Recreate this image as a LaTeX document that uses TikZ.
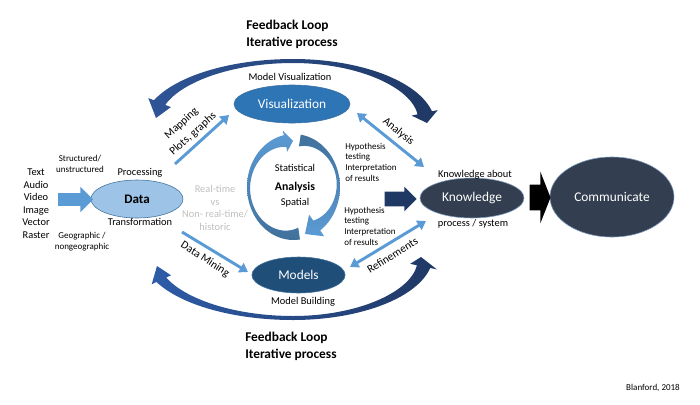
\documentclass[tikz,border=0pt]{standalone}
\usepackage{fontspec}
\setmainfont{Carlito}
\usetikzlibrary{shapes.geometric,shapes.arrows,arrows.meta,positioning}

\definecolor{loopTL}{HTML}{2F5597}
\definecolor{loopTR}{HTML}{1F3864}
\definecolor{loopBL}{HTML}{2E5CA8}
\definecolor{loopBR}{HTML}{203864}
\definecolor{steel}{HTML}{41719C}
\definecolor{litblue}{HTML}{5B9BD5}
\definecolor{vizblue}{HTML}{2E75B6}
\definecolor{modblue}{HTML}{1F4E79}
\definecolor{datafill}{HTML}{9DC3E6}
\definecolor{dataline}{HTML}{41719C}
\definecolor{slate}{HTML}{333F50}
\definecolor{slateline}{HTML}{7F9CC0}
\definecolor{navy}{HTML}{203864}
\definecolor{greytxt}{HTML}{BFBFBF}

\begin{document}
\begin{tikzpicture}[x=0.025cm, y=-0.025cm,
    declare function={tw(\a)=4+10*((\a-90)/75)*((\a-90)/75);
                      bw(\a)=4+10*((\a-270)/80)*((\a-270)/80);
                      aw(\a)=3+9*((\a-13)/68)*((\a-13)/68);
                      cw(\a)=3+9*((\a-190)/88)*((\a-190)/88);},
    lbl/.style={font=\fontsize{7.4}{8.9}\selectfont, align=center, inner sep=0pt},
    smalltxt/.style={font=\fontsize{6.4}{7.6}\selectfont, align=left, inner sep=0pt},
    title/.style={font=\bfseries\fontsize{9.5}{12}\selectfont, align=left, inner sep=0pt},
    blob/.style={ellipse, inner sep=0pt, text=white, line width=0.4pt, font=\fontsize{9.5}{11}\selectfont},
    blockarrow/.style={single arrow, inner xsep=0pt},
    link/.style={draw=litblue, line width=2.1pt, -{Triangle[length=6pt,width=7.5pt]}},
    twolink/.style={draw=litblue, line width=2.1pt, {Triangle[length=6pt,width=7.5pt]}-{Triangle[length=6pt,width=7.5pt]}},
    linklbl/.style={lbl, font=\fontsize{8}{10}\selectfont}
  ]
  \useasboundingbox (0,0) rectangle (700,404);

  % Feedback loops
  \shade[left color=loopTL, right color=loopTR]
    plot[domain=158:90, samples=40, variable=\t] ({293+150*cos(\t)},{125-66*sin(\t)})
    -- plot[domain=90:12, samples=40, variable=\t] ({293+142*cos(\t)},{125-66*sin(\t)})
    -- (437.7,110.1) -- (427,123) -- (411.6,115.6)
    -- plot[domain=12:90, samples=40, variable=\t] ({293+(142-tw(\t))*cos(\t)},{125-(66-tw(\t))*sin(\t)})
    -- plot[domain=90:158, samples=40, variable=\t] ({293+(150-tw(\t))*cos(\t)},{125-(66-tw(\t))*sin(\t)})
    -- (170.9,107.1) -- (156,118) -- (148.3,98.1) -- cycle;
  \shade[left color=loopBL, right color=loopBR]
    plot[domain=204.5:270, samples=40, variable=\t] ({293+150*cos(\t)},{255-65*sin(\t)})
    -- plot[domain=270:348.5, samples=40, variable=\t] ({293+140*cos(\t)},{255-65*sin(\t)})
    -- (436.9,269.4) -- (421,257) -- (410.2,263.8)
    -- plot[domain=348.5:270, samples=40, variable=\t] ({293+(140-bw(\t))*cos(\t)},{255-(65-bw(\t))*sin(\t)})
    -- plot[domain=270:204.5, samples=40, variable=\t] ({293+(150-bw(\t))*cos(\t)},{255-(65-bw(\t))*sin(\t)})
    -- (171,275.3) -- (157,266) -- (151.7,284.3) -- cycle;
  \node[title, anchor=west] (fbtop) at (246,34.5) {Feedback Loop\\Iterative process};
  \node[title, anchor=west] (fbbot) at (245,346.5) {Feedback Loop\\Iterative process};

  % Analysis cycle
  \shade[top color=steel, bottom color=litblue]
    plot[domain=81:-55, samples=40, variable=\t] ({293.5+46.5*cos(\t)},{187-53*sin(\t)})
    -- (324.2,236.3) -- (305,234) -- (309.1,214.7)
    -- plot[domain=-55:81, samples=40, variable=\t] ({293.5+(46.5-aw(\t))*cos(\t)},{187-(53-aw(\t))*sin(\t)})
    -- cycle;
  \shade[top color=litblue, bottom color=steel]
    plot[domain=278:102, samples=40, variable=\t] ({293.5+46.5*cos(\t)},{187-53*sin(\t)})
    -- (282.8,130.5) -- (293,141) -- (287.2,151.6)
    -- plot[domain=102:278, samples=40, variable=\t] ({293.5+(46.5-cw(\t))*cos(\t)},{187-(53-cw(\t))*sin(\t)})
    -- cycle;
  \node[lbl] (stat) at (295,168) {Statistical};
  \node[lbl, font=\bfseries\fontsize{8.4}{10}\selectfont] (analysis) at (295,187) {Analysis};
  \node[lbl] (spat) at (295,203) {Spatial};

  % Ellipses
  \node[blob, fill=vizblue, draw=steel, minimum width=2.9cm, minimum height=0.95cm] (viz) at (292,104) {Visualization};
  \node[blob, fill=modblue, draw=steel, minimum width=2.33cm, minimum height=0.9cm] (models) at (298.5,275) {Models};
  \node[blob, fill=datafill, draw=dataline, text=black, font=\bfseries\fontsize{9.3}{11}\selectfont,
        minimum width=2.3cm, minimum height=0.95cm] (data) at (137,199) {Data};
  \node[blob, fill=slate, draw=slateline, minimum width=2.6cm, minimum height=1cm] (know) at (472,198) {Knowledge};
  \node[blob, fill=slate, draw=slateline, minimum width=3.1cm, minimum height=2cm] (comm) at (612,197) {Communicate};

  % Labels round the ellipses
  \node[lbl] (vizlbl) at (290,77) {Model Visualization};
  \node[lbl] (modlbl) at (303,302) {Model Building};
  \node[lbl] (proc) at (140,173) {Processing};
  \node[lbl] (trans) at (140,222) {Transformation};
  \node[lbl] (kabout) at (475,175) {Knowledge about};
  \node[lbl] (ksys) at (473,224) {process / system};
  \node[lbl] (types) at (36,203.5) {Text\\Audio\\Video\\Image\\Vector\\Raster};
  \node[smalltxt, align=center] (struct) at (80,164) {Structured/\\unstructured};
  \node[smalltxt, align=center] (geo) at (82,241.5) {Geographic /\\nongeographic};
  \node[lbl, text=greytxt] (rt) at (215,208) {Real-time\\vs\\Non- real-time/\\historic};
  \node[smalltxt, anchor=west] (hyp1) at (345,162) {Hypothesis\\testing\\Interpretation\\of results};
  \node[smalltxt, anchor=west] (hyp2) at (344,226) {Hypothesis\\testing\\Interpretation\\of results};
  \node[smalltxt] (credit) at (653,388) {Blanford, 2018};

  % Block arrows
  \node[blockarrow, fill=litblue, inner ysep=0.15cm, single arrow head extend=0.16cm,
        minimum height=0.875cm] (inarrow) at (72.5,199.5) {};
  \node[blockarrow, fill=navy, inner ysep=0.175cm, single arrow head extend=0.125cm,
        minimum height=0.8cm] (navyarrow) at (397,199) {};
  \node[blockarrow, fill=black, inner ysep=0.3125cm, single arrow head extend=0.325cm, single arrow tip angle=137,
        minimum height=0.525cm] (blackarrow) at (537.5,197.5) {};

  % Thin arrows
  \coordinate (mapS) at (175,164);
  \coordinate (mapE) at (229,115);
  \coordinate (dmS) at (182,232);
  \coordinate (dmE) at (248,272);
  \coordinate (anS) at (357,113);
  \coordinate (anE) at (424,167);
  \coordinate (refS) at (350,267);
  \coordinate (refE) at (426,221);
  \draw[link] (mapS) -- (mapE);
  \draw[link] (dmS) -- (dmE);
  \draw[twolink] (anS) -- (anE);
  \draw[twolink] (refS) -- (refE);
  \node[linklbl, rotate=42] (maplbl) at (181.5,123.5) {Mapping};
  \node[linklbl, rotate=42] (plotlbl) at (193,134) {Plots, graphs};
  \node[linklbl, rotate=-33] (dmlbl) at (205,259.5) {Data Mining};
  \node[linklbl, rotate=-39] (anlbl) at (398.5,131.5) {Analysis};
  \node[linklbl, rotate=32] (reflbl) at (392.5,255.5) {Refinements};
\end{tikzpicture}
\end{document}
